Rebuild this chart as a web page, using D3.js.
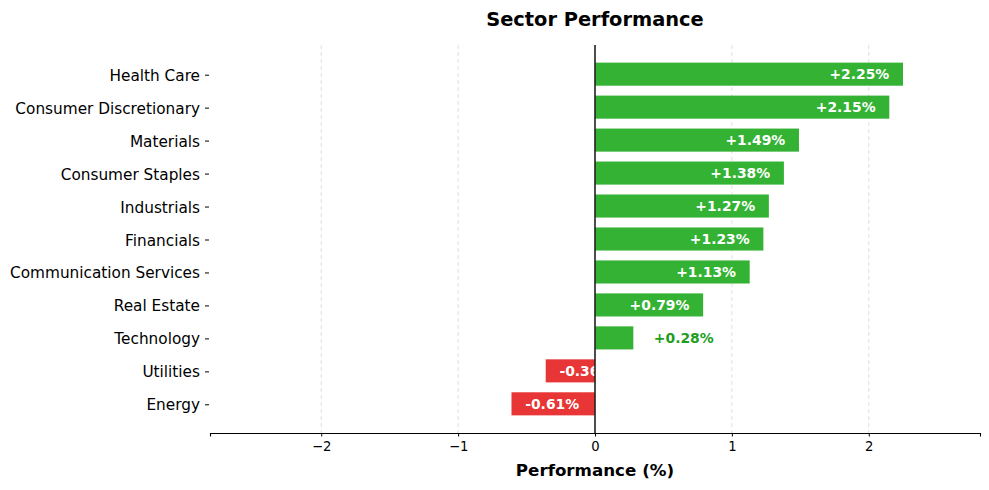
<!DOCTYPE html>
<html>
<head>
<meta charset="utf-8">
<script src="https://cdn.jsdelivr.net/npm/d3@7"></script>
<style>
  body { margin: 0; background: #fff; }
  svg { display: block; font-family: "DejaVu Sans", sans-serif; }
</style>
</head>
<body>
<svg id="chart"></svg>
<script>
// sectors, top to bottom as drawn
const sectors = ["Health Care", "Consumer Discretionary", "Materials", "Consumer Staples",
    "Industrials", "Financials", "Communication Services", "Real Estate",
    "Technology", "Utilities", "Energy"];
const performance = [2.25, 2.15, 1.49, 1.38, 1.27, 1.23, 1.13, 0.79, 0.28, -0.36, -0.61];
const xTicks = [-2, -1, 0, 1, 2];

const width = 989, height = 490;
const margin = { top: 45, right: 9, bottom: 57, left: 210 };

const svg = d3.select("#chart")
    .attr("width", width)
    .attr("height", height);

const innerW = width - margin.left - margin.right,
    innerH = height - margin.top - margin.bottom;

const g = svg.append("g")
    .attr("transform", "translate(" + margin.left + "," + margin.top + ")");

const maxAbs = d3.max(performance, d => Math.abs(d)) * 1.25;

const xScale = d3.scaleLinear().domain([-maxAbs, maxAbs]).range([0, innerW]);

// index 0 at top, bar height 0.7, 5% padding each side
const n = sectors.length;
const lo = -0.35 - 0.535, hi = (n - 1) + 0.35 + 0.535;
const yScale = d3.scaleLinear().domain([lo, hi]).range([0, innerH]);
const barH = yScale(0.7) - yScale(0);

// grid
g.selectAll(".grid")
    .data(xTicks)
    .enter()
    .append("line")
    .attr("class", "grid")
    .attr("x1", d => xScale(d))
    .attr("x2", d => xScale(d))
    .attr("y1", 0)
    .attr("y2", innerH)
    .attr("stroke", "#dcdcdc")
    .attr("stroke-width", 0.9)
    .attr("stroke-dasharray", "4,3");

const green = "#33b233", red = "#e83535";

g.selectAll(".bar")
    .data(performance)
    .enter()
    .append("rect")
    .attr("class", "bar")
    .attr("x", d => xScale(Math.min(0, d)))
    .attr("width", d => Math.abs(xScale(d) - xScale(0)))
    .attr("y", (d, i) => yScale(i) - barH / 2)
    .attr("height", barH)
    .attr("fill", d => d >= 0 ? green : red);

// value labels
g.selectAll(".val")
    .data(performance)
    .enter()
    .append("text")
    .attr("class", "val")
    .attr("x", d => {
        if (d < 0) return xScale(d + 0.1);
        if (d < 0.5) return xScale(d + 0.15);
        return xScale(d - 0.1);
    })
    .attr("y", (d, i) => yScale(i))
    .attr("dy", "0.37em")
    .attr("text-anchor", d => (d >= 0.5) ? "end" : "start")
    .attr("font-size", "13.9px")
    .attr("font-weight", "bold")
    .attr("fill", d => (d >= 0 && d < 0.5) ? "#1e9e1e" : "#fff")
    .text(d => (d > 0 ? "+" : "") + d.toFixed(2) + "%");

// zero line
g.append("line")
    .attr("x1", xScale(0))
    .attr("x2", xScale(0))
    .attr("y1", 0)
    .attr("y2", innerH)
    .attr("stroke", "#222")
    .attr("stroke-width", 1.6);

// x axis
const xAxis = g.append("g")
    .attr("transform", "translate(0," + innerH + ")")
    .call(d3.axisBottom(xScale).tickValues(xTicks).tickSize(3.5).tickPadding(5)
        .tickFormat(d => d < 0 ? "\u2212" + Math.abs(d) : d));
xAxis.select(".domain").attr("stroke", "#000").attr("stroke-width", 1.1);
xAxis.selectAll("text").attr("font-size", "13.2px").attr("fill", "#000")
    .attr("font-family", "DejaVu Sans");

// y axis labels with tick marks
const yAxis = g.append("g");
yAxis.selectAll("line")
    .data(sectors)
    .enter()
    .append("line")
    .attr("x1", -5)
    .attr("x2", -1)
    .attr("y1", (d, i) => yScale(i) + 1)
    .attr("y2", (d, i) => yScale(i) + 1)
    .attr("stroke", "#000")
    .attr("stroke-width", 1);
yAxis.selectAll("text")
    .data(sectors)
    .enter()
    .append("text")
    .attr("x", -10)
    .attr("y", (d, i) => yScale(i) + 1)
    .attr("dy", "0.36em")
    .attr("text-anchor", "end")
    .attr("font-size", "15.3px")
    .attr("fill", "#000")
    .text(d => d);

// axis title + chart title
svg.append("text")
    .attr("x", margin.left + innerW / 2)
    .attr("y", 476)
    .attr("text-anchor", "middle")
    .attr("font-size", "16.7px")
    .attr("font-weight", "bold")
    .text("Performance (%)");

svg.append("text")
    .attr("x", margin.left + innerW / 2)
    .attr("y", 26)
    .attr("text-anchor", "middle")
    .attr("font-size", "19.4px")
    .attr("font-weight", "bold")
    .text("Sector Performance");
</script>
</body>
</html>
